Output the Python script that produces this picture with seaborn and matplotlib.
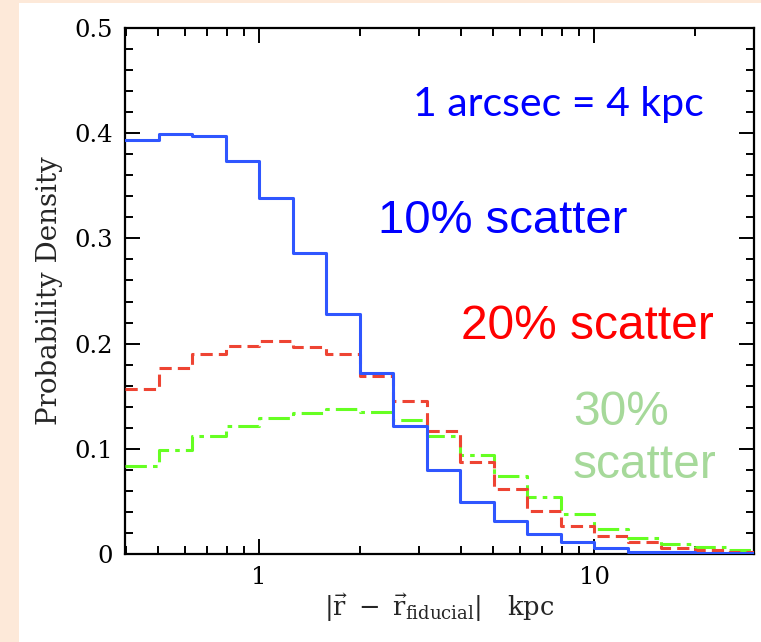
import numpy as np
import pandas as pd
import matplotlib
matplotlib.use("Agg")
import matplotlib.pyplot as plt
import matplotlib.ticker as mticker
from matplotlib.patches import Rectangle
import seaborn as sns

# ---- data ----
log_edges = [-0.4, -0.3, -0.2, -0.1, 0.0, 0.1, 0.2, 0.3, 0.4, 0.5, 0.6, 0.7,
             0.8, 0.9, 1.0, 1.1, 1.2, 1.3, 1.4, 1.5]
scatter10 = [0.394, 0.399, 0.397, 0.374, 0.338, 0.286, 0.228, 0.172, 0.122, 0.080,
             0.049, 0.031, 0.019, 0.011, 0.0054, 0.0022, 0.0015, 0.0010, 0.0006]
scatter20 = [0.157, 0.177, 0.190, 0.198, 0.202, 0.197, 0.190, 0.169, 0.145, 0.117,
             0.087, 0.062, 0.041, 0.027, 0.017, 0.011, 0.0057, 0.0040, 0.0020]
scatter30 = [0.084, 0.099, 0.112, 0.122, 0.129, 0.134, 0.138, 0.135, 0.127, 0.112,
             0.094, 0.074, 0.054, 0.038, 0.024, 0.015, 0.0095, 0.0064, 0.0040]
y_ticks = [0, 0.1, 0.2, 0.3, 0.4, 0.5]
x_ticks = [1, 10]

W, H = 761, 642
sns.set_theme(style="white")
plt.rcParams["font.family"] = ["DejaVu Serif"]
plt.rcParams["mathtext.fontset"] = "dejavuserif"

fig = plt.figure(figsize=(W / 100, H / 100), dpi=100, facecolor="#fde9d9")
fig.add_artist(Rectangle((19 / W, 0), 1 - 19 / W, 1 - 3 / H, transform=fig.transFigure,
                         facecolor="white", edgecolor="none", zorder=0))

left, right, top, bottom = 125, 754, 28, 554
ax = fig.add_axes([left / W, 1 - bottom / H, (right - left) / W, (bottom - top) / H])
ax.set_facecolor("white")

edges = 10 ** np.array(log_edges)

def steps(vals):
    return pd.DataFrame({"x": edges, "y": list(vals) + [vals[-1]]})

sns.lineplot(data=steps(scatter30), x="x", y="y", ax=ax, drawstyle="steps-post",
             color="#66ff22", lw=2.2, linestyle=(0, (7, 2, 1.5, 2)), zorder=3)
sns.lineplot(data=steps(scatter20), x="x", y="y", ax=ax, drawstyle="steps-post",
             color="#ee4433", lw=2.2, linestyle=(0, (4, 2)), zorder=4)
sns.lineplot(data=steps(scatter10), x="x", y="y", ax=ax, drawstyle="steps-post",
             color="#2f56ff", lw=2.2, zorder=5)

ax.set_xscale("log")
ax.set_xlim(10 ** -0.4, 30)
ax.set_ylim(0, 0.5)
ax.set_yticks(y_ticks)
ax.yaxis.set_major_formatter(mticker.FuncFormatter(lambda v, p: f"{v:g}"))
ax.yaxis.set_minor_locator(mticker.MultipleLocator(0.02))
ax.set_xticks(x_ticks)
ax.xaxis.set_major_formatter(mticker.FuncFormatter(lambda v, p: f"{v:g}"))
ax.xaxis.set_minor_locator(mticker.LogLocator(base=10, subs=np.arange(2, 10)))
ax.xaxis.set_minor_formatter(mticker.NullFormatter())

for s in ax.spines.values():
    s.set_visible(True)
    s.set_color("black")
    s.set_linewidth(1.6)
ax.tick_params(which="both", direction="in", top=True, right=True, bottom=True, left=True,
               colors="black", width=1.4)
ax.tick_params(which="major", length=11, labelsize=17.5, pad=9)
ax.tick_params(which="minor", length=5.5)

ax.set_ylabel("Probability Density", fontsize=20, labelpad=8)
ax.set_xlabel(r"$|\vec{\mathrm{r}}\ -\ \vec{\mathrm{r}}_{\mathrm{fiducial}}|$   kpc",
              fontsize=18.5, labelpad=1)

def ftext(px, py, s, **kw):
    fig.text(px / W, 1 - py / H, s, va="baseline", ha="left", **kw)

ftext(413, 116, "1 arcsec = 4 kpc", color="#0000ff", fontsize=29.5, family=["Lato", "DejaVu Sans"])
ftext(378, 233, "10% scatter", color="#0000ff", fontsize=34, family=["Liberation Sans"])
ftext(461, 339, "20% scatter", color="#ff0000", fontsize=34.5, family=["Liberation Sans"])
ftext(573, 425, "30%", color="#a6d99a", fontsize=34.5, family=["Liberation Sans"])
ftext(573, 478, "scatter", color="#a6d99a", fontsize=34.5, family=["Liberation Sans"])

fig.savefig("out.png", dpi=100, facecolor=fig.get_facecolor())
